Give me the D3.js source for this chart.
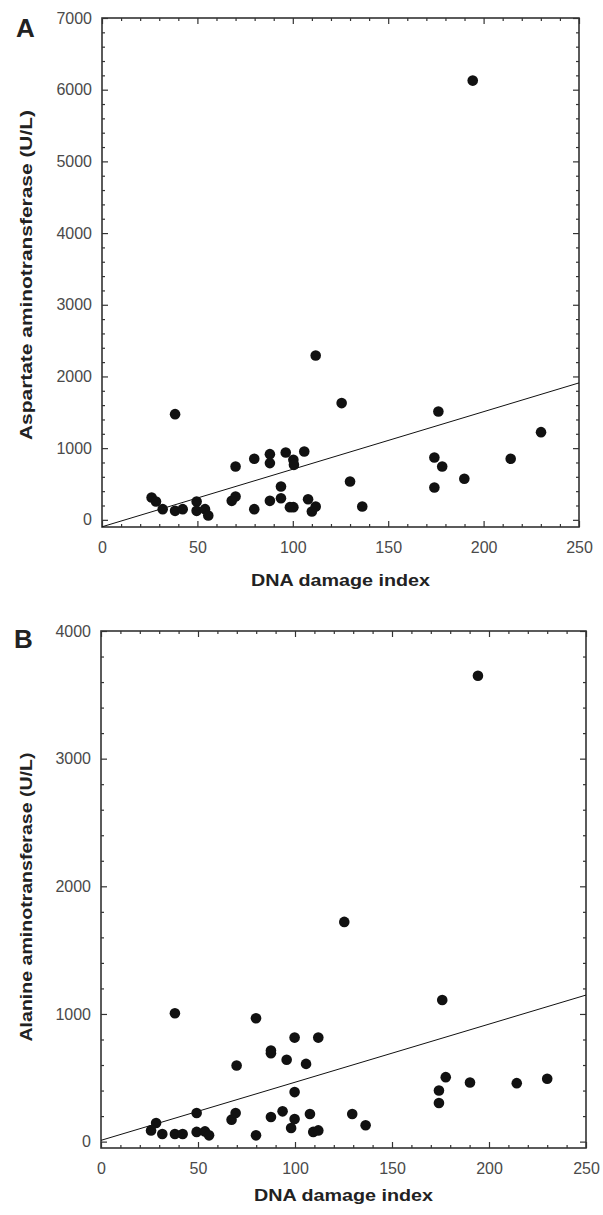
<!DOCTYPE html>
<html>
<head>
<meta charset="utf-8">
<script src="https://cdn.jsdelivr.net/npm/d3@7"></script>
<style>
    body { margin: 0; background: #fff; }
    svg { display: block; }
    .tick-label { font-family: "Liberation Sans", Arial, sans-serif; font-size: 16px; fill: #4a4a4a; }
    .title { font-family: "Liberation Sans", Arial, sans-serif; font-weight: bold; fill: #222; }
</style>
</head>
<body>
<svg id="chart" width="603" height="1215"></svg>
<script>
//
// DNA damage index vs liver enzymes (two scatter panels)
//

// panel A - aspartate aminotransferase
const damage_a = [26, 28.3, 31.8, 38.3, 38.3, 42.3, 49.6, 49.6, 54, 55.7, 68, 70, 70, 79.8, 79.8,
                  88, 88, 88, 93.8, 93.8, 96.3, 98.5, 100.3, 100.3, 100.6, 106, 108, 110, 112, 112,
                  125.6, 130, 136.4, 176.3, 174.2, 178.3, 174.2, 189.9, 214.2, 230.1, 194.3];
const ast_values = [311, 255, 149, 1474, 125, 149, 255, 125, 149, 60, 265, 325, 744, 149, 851,
                    916, 791, 265, 465, 302, 939, 177, 177, 837, 767, 953, 288, 116, 186, 2292,
                    1628, 534, 186, 1511, 869, 744, 451, 572, 851, 1223, 6127];
const fit_a_x = [0, 250];
const fit_a_y = [-97, 1910];
const ticks_a_y = [0, 1000, 2000, 3000, 4000, 5000, 6000, 7000];

// panel B - alanine aminotransferase
const damage_b = [25.8, 28.4, 31.6, 38.1, 38.1, 42.1, 49.3, 49.3, 53.6, 55.7, 67.3, 69.4, 69.9, 79.9, 79.9,
                  87.6, 87.6, 87.6, 93.6, 95.7, 98, 99.8, 99.8, 99.8, 105.7, 107.7, 109.4, 112, 112,
                  125.4, 129.5, 136.4, 175.9, 177.7, 174.2, 174.2, 190.2, 214.3, 230, 194.3];
const alt_values = [88, 146, 60, 1005, 60, 60, 224, 76, 80, 49, 172, 224, 596, 966, 49,
                    713, 693, 193, 237, 641, 107, 388, 815, 177, 609, 216, 76, 88, 815,
                    1721, 216, 128, 1109, 505, 401, 302, 463, 458, 492, 3650];
const fit_b_x = [0, 250];
const fit_b_y = [10, 1148];
const ticks_b_y = [0, 1000, 2000, 3000, 4000];

const ticks_x = [0, 50, 100, 150, 200, 250];


/**
 * draw one scatter panel with frame, inward ticks and a fitted line
 */
function draw_panel(svg, opts) {
    const xScale = d3.scaleLinear().domain([0, 250]).range([opts.left, opts.right]);
    const yScale = d3.scaleLinear().domain(opts.y_domain).range([opts.bottom, opts.top]);
    const w = opts.right - opts.left;
    const h = opts.bottom - opts.top;
    const g = svg.append('g');

    const minor_x = d3.range(0, 251, 10).filter((v) => v % 50 !== 0);
    const minor_y = d3.range(0, opts.y_domain[1] + 1, 200).filter((v) => v % 1000 !== 0);

    const axisLayer = (axis, tx, ty) => {
        const a = g.append('g')
            .attr('transform', `translate(${tx}, ${ty})`)
            .call(axis);
        a.select('.domain').remove();
        a.selectAll('line').attr('stroke', '#333').attr('stroke-width', 1.2);
        a.selectAll('text').attr('class', 'tick-label').attr('fill', null);
        return a;
    };

    // bottom + top
    axisLayer(d3.axisBottom(xScale).tickValues(ticks_x).tickSize(-6).tickPadding(15).tickFormat(d3.format('d')), 0, opts.bottom);
    axisLayer(d3.axisBottom(xScale).tickValues(minor_x).tickSize(-3).tickFormat(''), 0, opts.bottom);
    axisLayer(d3.axisTop(xScale).tickValues(ticks_x).tickSize(-6).tickFormat(''), 0, opts.top);
    axisLayer(d3.axisTop(xScale).tickValues(minor_x).tickSize(-3).tickFormat(''), 0, opts.top);

    // left + right
    axisLayer(d3.axisLeft(yScale).tickValues(opts.y_ticks).tickSize(-6).tickPadding(10).tickFormat(d3.format('d')), opts.left, 0);
    axisLayer(d3.axisLeft(yScale).tickValues(minor_y).tickSize(-3).tickFormat(''), opts.left, 0);
    axisLayer(d3.axisRight(yScale).tickValues(opts.y_ticks).tickSize(-6).tickFormat(''), opts.right, 0);
    axisLayer(d3.axisRight(yScale).tickValues(minor_y).tickSize(-3).tickFormat(''), opts.right, 0);

    // frame
    g.append('rect')
        .attr('x', opts.left)
        .attr('y', opts.top)
        .attr('width', w)
        .attr('height', h)
        .attr('fill', 'none')
        .attr('stroke', '#333')
        .attr('stroke-width', 1.6);

    // regression line
    const line = d3.line()
        .x((d) => xScale(d[0]))
        .y((d) => yScale(d[1]));
    g.append('path')
        .datum(d3.zip(opts.fit_x, opts.fit_y))
        .attr('d', line)
        .attr('fill', 'none')
        .attr('stroke', '#111')
        .attr('stroke-width', 1);

    // points
    g.selectAll('circle.pt')
        .data(d3.zip(opts.xs, opts.ys))
        .enter()
        .append('circle')
        .attr('class', 'pt')
        .attr('cx', (d) => xScale(d[0]))
        .attr('cy', (d) => yScale(d[1]))
        .attr('r', 5.3)
        .attr('fill', '#111');

    // axis titles
    g.append('text')
        .attr('class', 'title')
        .attr('x', (opts.left + opts.right) / 2)
        .attr('y', opts.bottom + opts.x_title_dy)
        .attr('text-anchor', 'middle')
        .attr('font-size', 16)
        .attr('textLength', 179)
        .attr('lengthAdjust', 'spacingAndGlyphs')
        .text('DNA damage index');

    g.append('text')
        .attr('class', 'title')
        .attr('transform', `translate(32, ${opts.y_title_cy}) rotate(-90)`)
        .attr('text-anchor', 'middle')
        .attr('font-size', 17)
        .attr('textLength', opts.y_title_len)
        .attr('lengthAdjust', 'spacingAndGlyphs')
        .text(opts.y_title);

    // panel letter
    g.append('text')
        .attr('class', 'title')
        .attr('x', opts.letter_x)
        .attr('y', opts.letter_y)
        .attr('font-size', 26)
        .text(opts.letter);
}

const svg = d3.select('#chart');

draw_panel(svg, {
    letter: 'A', letter_x: 16, letter_y: 37,
    left: 102, right: 579, top: 18, bottom: 527,
    y_domain: [-100, 7000], y_ticks: ticks_a_y,
    xs: damage_a, ys: ast_values, fit_x: fit_a_x, fit_y: fit_a_y,
    x_title_dy: 59,
    y_title: 'Aspartate aminotransferase (U/L)', y_title_cy: 275, y_title_len: 330
});

draw_panel(svg, {
    letter: 'B', letter_x: 14, letter_y: 648,
    left: 101, right: 586, top: 631, bottom: 1148,
    y_domain: [-50, 4000], y_ticks: ticks_b_y,
    xs: damage_b, ys: alt_values, fit_x: fit_b_x, fit_y: fit_b_y,
    x_title_dy: 53,
    y_title: 'Alanine aminotransferase (U/L)', y_title_cy: 897, y_title_len: 289
});
</script>
</body>
</html>
